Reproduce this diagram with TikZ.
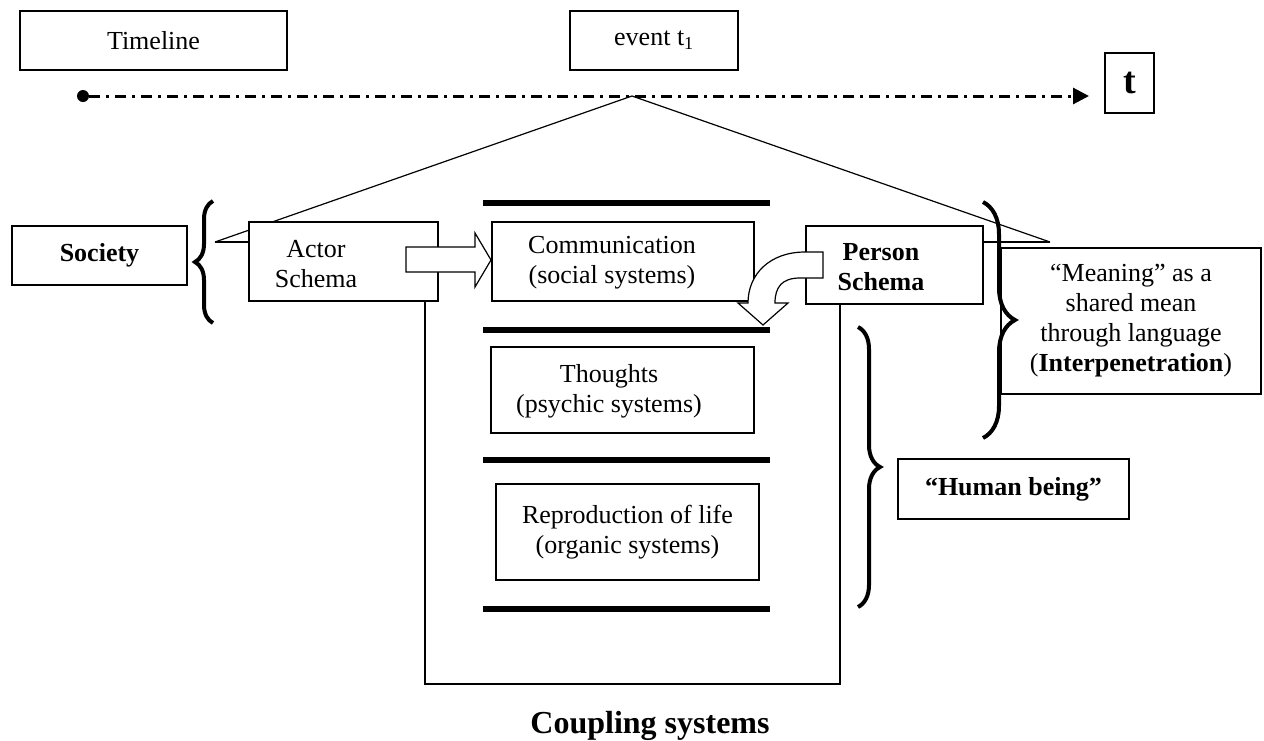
\documentclass[tikz,border=0pt]{standalone}
\usepackage{fontspec}
\setmainfont{Liberation Serif}
\usetikzlibrary{positioning,arrows.meta,decorations.pathreplacing}

\begin{document}
\begin{tikzpicture}[x=1pt, y=-1pt,
    box/.style={draw, line width=1.2pt, fill=white, inner sep=0pt, align=center,
                font=\fontsize{26}{30}\selectfont},
    plain-text/.style={inner sep=0pt, align=center, font=\fontsize{26}{30}\selectfont},
    edge-line/.style={line width=1.2pt},
    bar/.style={line width=6pt},
    curly/.style={decorate, line width=4pt},
    time-axis/.style={line width=3pt, dash pattern=on 11pt off 6pt on 3pt off 6pt,
                      -{Triangle[length=16pt,width=16pt]}}]

      \useasboundingbox (0,0) rectangle (1264,740);

      % Define nodes
      \node[box, minimum width=267, minimum height=59]  (timeline) at (153.5,40.5) {Timeline};
      \node[box, minimum width=168, minimum height=59]  (event) at (654,40.5) {event t\textsubscript{1}};
      \node[box, minimum width=49, minimum height=60,
            font=\bfseries\fontsize{38}{40}\selectfont] (tbox) at (1129.5,83) {t};
      \node[circle, fill, inner sep=0pt, minimum size=12pt] (dot) at (83,96) {};
      \coordinate (apex) at (632,96);
      \coordinate (arrow-end) at (1089,96);
      \coordinate (left-corner) at (215,242);
      \coordinate (right-corner) at (1050,242);

      % Roof of the house
      \draw[edge-line] (left-corner) -- (apex) -- (right-corner);
      \draw[edge-line] (left-corner) -- (249,242);
      \draw[edge-line] (983,242) -- (right-corner);

      \node[box, minimum width=175, minimum height=59, font=\bfseries\fontsize{26}{30}\selectfont]
                                                        (society) at (99.5,255.5) {Society};
      \node[box, minimum width=189, minimum height=79]  (actor) at (343.5,261.5) {};
      \node[plain-text]                                 (actor-text) at (316,264) {Actor\\Schema};
      \node[box, minimum width=262, minimum height=79]  (comm) at (623,261.5) {};
      \node[plain-text]                                 (comm-text) at (612,263) {Communication\\(social systems)};
      \node[box, minimum width=177, minimum height=78]  (person) at (894.5,265) {};
      \node[plain-text, font=\bfseries\fontsize{26}{30}\selectfont]
                                                        (person-text) at (881,267) {Person\\Schema};
      \node[box, minimum width=260, minimum height=146] (meaning) at (1131,321)
            {``Meaning'' as a\\shared mean\\through language\\(\textbf{Interpenetration})};
      \node[box, minimum width=263, minimum height=86]  (thoughts) at (622.5,390) {};
      \node[plain-text]                                 (thoughts-text) at (609,391) {Thoughts\\(psychic systems)};
      \node[box, minimum width=263, minimum height=96]  (repro) at (627.5,532) {Reproduction of life\\(organic systems)};
      \node[box, minimum width=231, minimum height=60, font=\bfseries\fontsize{26}{30}\selectfont]
                                                        (human) at (1013.5,489) {``Human being''};
      \node[plain-text, anchor=base, font=\bfseries\fontsize{32}{36}\selectfont]
                                                        (coupling) at (650,733) {Coupling systems};
      \coordinate (frame-sw) at (425,684);
      \coordinate (frame-se) at (840,684);

      % Connect the nodes
      \draw[time-axis] (dot) -- (arrow-end);
      \draw[edge-line] (frame-sw |- actor.south) -- (frame-sw) -- (frame-se) -- (frame-se |- person.south);

      % Layers
      \foreach \y in {203,330,460,609}
        \draw[bar] (483,\y) -- (770,\y);

      % Block arrows
      \draw[edge-line, fill=white] (406,247) -- (475,247) -- (475,233) -- (491,260)
            -- (475,287) -- (475,272) -- (406,272) -- cycle;
      \draw[edge-line, fill=white] (823,252) -- (805,252) .. controls (770,252) and (748,274) .. (748,303)
            -- (738,303) -- (763,325) -- (788,303) -- (775,303)
            .. controls (775,287) and (782,278) .. (800,278) -- (823,278) -- cycle;

      % Braces
      \draw[curly, decoration={brace, amplitude=18pt}] (213,323) -- (213,201);
      \draw[curly, decoration={brace, amplitude=32pt}] (983,202) -- (983,438);
      \draw[curly, decoration={brace, amplitude=22pt}] (858,327) -- (858,607);

\end{tikzpicture}
\end{document}
